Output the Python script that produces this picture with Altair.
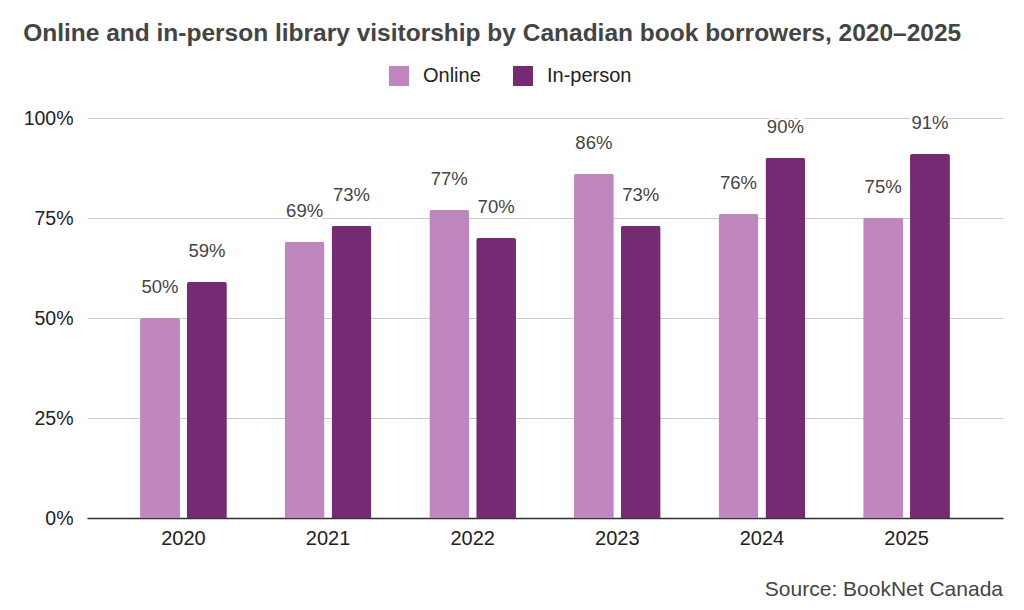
import altair as alt
import pandas as pd

years = ["2020", "2021", "2022", "2023", "2024", "2025"]
online = [50, 69, 77, 86, 76, 75]
in_person = [59, 73, 70, 73, 90, 91]
series = ["Online", "In-person"]
colors = ["#BF86C0", "#772A74"]
y_ticks = [0, 25, 50, 75, 100]

rows = []
for i, yr in enumerate(years):
    rows.append({"year": yr, "type": "Online", "value": online[i]})
    rows.append({"year": yr, "type": "In-person", "value": in_person[i]})
df = pd.DataFrame(rows)
df["label"] = df["value"].astype(str) + "%"

FONT = "Liberation Sans"

x_enc = alt.X(
    "year:N",
    sort=years,
    title=None,
    scale=alt.Scale(paddingInner=0.4, paddingOuter=0.367),
    axis=alt.Axis(
        labelAngle=0, ticks=False, domain=True, domainColor="#333333",
        domainWidth=1.5, labelFont=FONT, labelFontSize=20, labelColor="#222222",
        labelPadding=10, grid=False,
    ),
)
y_enc = alt.Y(
    "value:Q",
    title=None,
    scale=alt.Scale(domain=[0, 100], nice=False, zero=True),
    axis=alt.Axis(
        values=y_ticks, labelExpr="datum.value + '%'", domain=False, ticks=False,
        grid=True, gridColor="#cccccc", gridWidth=1, labelFont=FONT,
        labelFontSize=19.5, labelColor="#222222", labelPadding=14,
    ),
)
xoff = alt.XOffset("type:N", sort=series, scale=alt.Scale(paddingInner=0.149, paddingOuter=0))

base = alt.Chart(df)

bars = base.mark_bar(cornerRadiusTopLeft=2, cornerRadiusTopRight=2).encode(
    x=x_enc,
    y=y_enc,
    xOffset=xoff,
    color=alt.Color(
        "type:N",
        sort=series,
        scale=alt.Scale(domain=series, range=colors),
        legend=alt.Legend(
            title=None, orient="none", direction="horizontal", legendX=302,
            legendY=-52, symbolType="square", symbolSize=400, symbolStrokeWidth=0,
            labelFont=FONT, labelFontSize=20, labelColor="#222222",
            labelOffset=14, columnPadding=32, padding=0,
        ),
    ),
)

halo = base.mark_text(
    dy=-25, baseline="alphabetic", font=FONT, fontSize=18.5,
    stroke="white", strokeWidth=4, fill="white",
).encode(x=x_enc, y=y_enc, xOffset=xoff, text="label:N")

labels = base.mark_text(
    dy=-25, baseline="alphabetic", font=FONT, fontSize=18.5, color="#444444",
).encode(x=x_enc, y=y_enc, xOffset=xoff, text="label:N")

source = alt.Chart(pd.DataFrame({"t": ["Source: BookNet Canada"]})).mark_text(
    align="right", baseline="alphabetic", font=FONT, fontSize=21, color="#444444",
).encode(x=alt.value(916), y=alt.value(478), text="t:N")

chart = alt.layer(bars, halo, labels, source).properties(
    width=916,
    height=400,
    autosize=alt.AutoSizeParams(type="none"),
    padding={"left": 79, "top": 110, "right": 13, "bottom": 82},
    title=alt.Title(
        "Online and in-person library visitorship by Canadian book borrowers, 2020–2025",
        anchor="start", frame="bounds", font=FONT, fontSize=24.5, fontWeight="bold",
        color="#444444", offset=20,
    ),
).configure_view(stroke=None)

chart.save("out.html", embed_options={"renderer": "svg", "actions": False})
